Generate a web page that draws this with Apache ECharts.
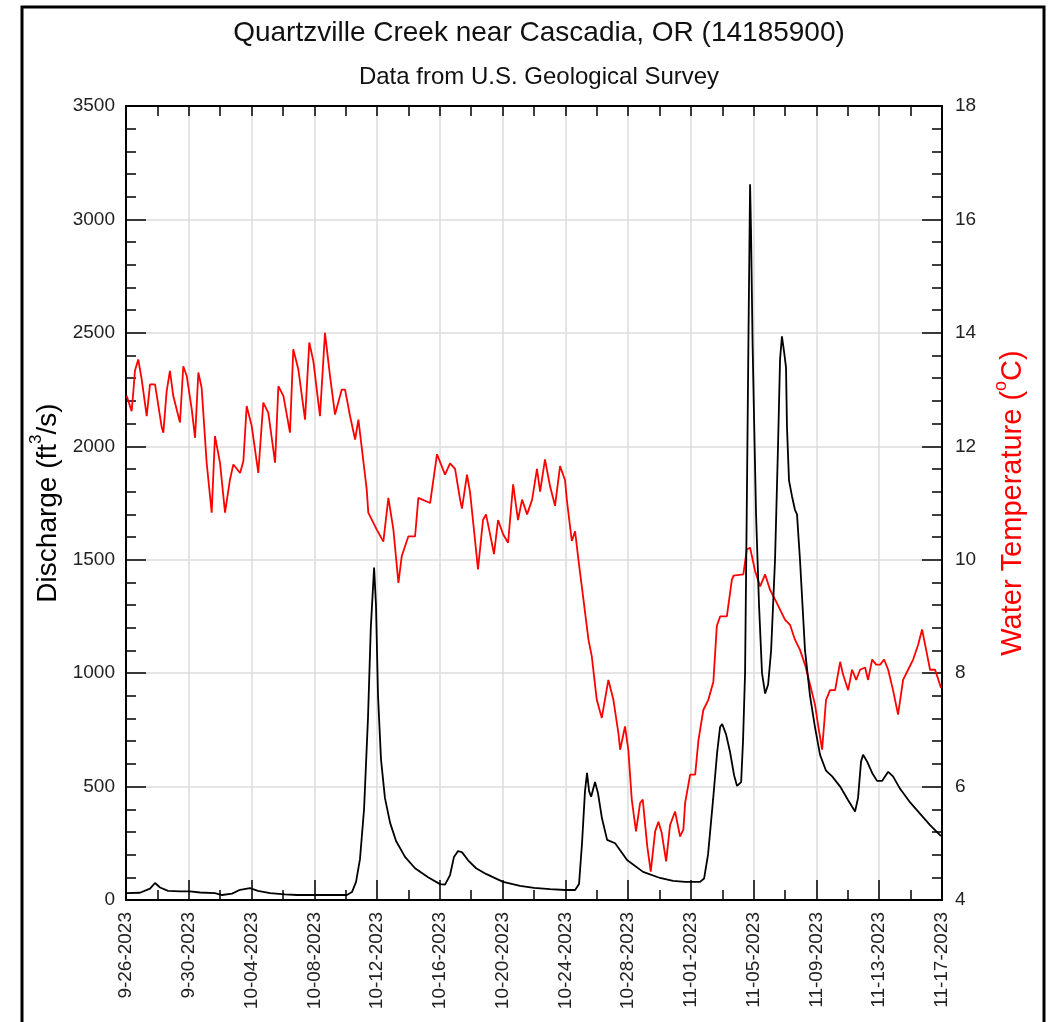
<!DOCTYPE html>
<html>
<head>
<meta charset="utf-8">
<title>Quartzville Creek near Cascadia, OR (14185900)</title>
<script src="https://cdn.jsdelivr.net/npm/echarts@6/dist/echarts.min.js"></script>
<style>
  html, body { margin: 0; padding: 0; background: #fff; }
  #chart { width: 1053px; height: 1022px; }
</style>
</head>
<body>
<div id="chart"></div>
<script>
// Period start (day 0 = 2023-09-26 00:00), axis spans 52 days
const startDate = Date.UTC(2023, 8, 26);
const totalDays = 52;

// Discharge (ft3/s): day offset and value
const flowDay = [0, 0.89, 1.53, 1.85, 2.17, 2.68, 3.44, 4.08, 4.72, 5.67, 6.12, 6.76, 7.27, 7.9, 8.41, 9.18, 10.13, 10.9,
  14.08, 14.4, 14.66, 14.91, 15.17, 15.42, 15.6, 15.81, 15.93, 16.06, 16.25, 16.5, 16.83, 17.21, 17.78, 18.42, 19.25, 20.01,
  20.33, 20.65, 20.9, 21.16, 21.42, 21.8, 22.31, 22.94, 24.03, 25.11, 26.0, 27.02, 27.98, 28.62, 28.87, 29.06, 29.25, 29.38,
  29.51, 29.64, 29.89, 30.08, 30.33, 30.66, 31.17, 31.93, 32.95, 34.03, 34.86, 35.63, 36.58, 36.84, 37.09, 37.41, 37.67,
  37.86, 37.99, 38.24, 38.5, 38.75, 38.94, 39.2, 39.32, 39.45, 39.57, 39.67, 39.77, 39.83, 39.93, 40.03, 40.15, 40.34,
  40.53, 40.73, 40.92, 41.11, 41.36, 41.55, 41.68, 41.8, 41.93, 42.06, 42.12, 42.25, 42.44, 42.63, 42.76, 42.95, 43.27,
  43.59, 43.91, 44.23, 44.61, 45.0, 45.51, 46.02, 46.46, 46.65, 46.84, 46.97, 47.23, 47.55, 47.86, 48.18, 48.57, 48.88,
  49.33, 49.97, 50.61, 51.24, 51.94];
const flowCfs = [30, 32, 50, 75, 55, 40, 38, 38, 33, 30, 22, 28, 45, 52, 40, 30, 25, 22,
  22, 35, 80, 180, 400, 800, 1200, 1465, 1300, 900, 620, 450, 340, 260, 190, 140, 100, 70,
  68, 110, 190, 216, 210, 175, 140, 115, 80, 62, 53, 48, 44, 44, 70, 250, 480, 560,
  480, 455, 520, 470, 360, 265, 250, 176, 124, 97, 84, 80, 80, 95, 200, 441, 650,
  763, 776, 730, 650, 550, 503, 520, 700, 1000, 1800, 2500, 3155, 2948, 2450, 2100, 1700, 1300,
  1000, 910, 950, 1100, 1500, 2000, 2383, 2485, 2420, 2348, 2087, 1850, 1780, 1720, 1700, 1500, 1100,
  900, 760, 640, 570, 545, 500, 440, 390, 450, 610, 640, 610, 560, 525, 525, 565, 545,
  490, 430, 380, 330, 282];

// Water temperature (deg C): day offset and value
const tempDay = [0.04, 0.36, 0.47, 0.57, 0.78, 1.0, 1.32, 1.53, 1.85, 2.28, 2.38, 2.59, 2.8, 3.01, 3.44, 3.65, 3.87, 4.19,
  4.4, 4.61, 4.82, 5.14, 5.46, 5.67, 5.99, 6.31, 6.63, 6.84, 7.27, 7.48, 7.69, 8.01, 8.43, 8.75, 9.07, 9.5, 9.71, 10.03,
  10.45, 10.66, 10.98, 11.41, 11.68, 11.94, 12.36, 12.68, 13.0, 13.32, 13.75, 13.96, 14.28, 14.6, 14.81, 15.34, 15.44,
  15.98, 16.4, 16.72, 17.04, 17.36, 17.57, 17.99, 18.42, 18.63, 19.38, 19.82, 20.33, 20.65, 20.97, 21.29, 21.41, 21.73,
  21.92, 22.24, 22.43, 22.75, 22.94, 23.2, 23.45, 23.71, 24.03, 24.35, 24.67, 24.98, 25.24, 25.56, 25.88, 26.19, 26.39,
  26.7, 27.02, 27.34, 27.66, 27.98, 28.09, 28.41, 28.62, 28.83, 29.15, 29.47, 29.68, 30.0, 30.32, 30.74, 31.06, 31.38,
  31.49, 31.8, 32.01, 32.23, 32.5, 32.76, 32.93, 33.22, 33.44, 33.72, 33.93, 34.14, 34.42, 34.67, 34.99, 35.31, 35.52,
  35.63, 35.95, 36.27, 36.48, 36.79, 37.11, 37.43, 37.65, 37.86, 38.29, 38.61, 38.72, 39.34, 39.56, 39.77, 40.09, 40.41,
  40.73, 41.04, 41.36, 41.68, 42.0, 42.32, 42.63, 42.95, 43.27, 43.59, 43.91, 44.1, 44.36, 44.61, 44.87, 45.19, 45.51,
  45.7, 46.02, 46.27, 46.53, 46.78, 47.1, 47.29, 47.55, 47.8, 48.06, 48.31, 48.57, 48.88, 49.2, 49.52, 49.84, 50.16,
  50.48, 50.73, 50.99, 51.24, 51.56, 51.94];
const tempC = [12.89, 12.62, 12.97, 13.33, 13.53, 13.18, 12.53, 13.09, 13.09, 12.33, 12.24, 12.97, 13.33, 12.89, 12.42, 13.41, 13.24, 12.65,
  12.15, 13.3, 13.03, 11.71, 10.83, 12.18, 11.71, 10.83, 11.42, 11.68, 11.53, 11.74, 12.71, 12.36, 11.53, 12.77, 12.59, 11.71, 13.06, 12.89,
  12.24, 13.71, 13.36, 12.47, 13.83, 13.5, 12.53, 14.0, 13.24, 12.56, 13.0, 13.0, 12.53, 12.12, 12.47, 11.24, 10.83,
  10.53, 10.32, 11.09, 10.53, 9.59, 10.06, 10.41, 10.41, 11.09, 11.0, 11.86, 11.5, 11.7, 11.6, 11.06, 10.9, 11.5,
  11.2, 10.35, 9.83, 10.7, 10.8, 10.45, 10.1, 10.7, 10.45, 10.3, 11.33, 10.7, 11.06, 10.8, 11.06, 11.6, 11.2,
  11.77, 11.3, 10.95, 11.65, 11.4, 11.06, 10.33, 10.5, 10.0, 9.3, 8.59, 8.3, 7.53, 7.21, 7.88, 7.53, 6.94,
  6.65, 7.06, 6.65, 5.77, 5.21, 5.71, 5.77, 4.94, 4.5, 5.21, 5.38, 5.18, 4.68, 5.32, 5.56, 5.12, 5.24,
  5.71, 6.21, 6.21, 6.82, 7.35, 7.53, 7.85, 8.83, 9.0, 9.0, 9.65, 9.72, 9.74, 10.18, 10.21, 9.8, 9.53,
  9.74, 9.47, 9.3, 9.12, 8.94, 8.85, 8.59, 8.41, 8.15, 7.8, 7.44, 7.09, 6.65, 7.53, 7.7, 7.7, 8.2,
  7.97, 7.7, 8.06, 7.88, 8.06, 8.1, 7.88, 8.24, 8.15, 8.15, 8.24, 8.06, 7.7, 7.27, 7.88, 8.06, 8.24,
  8.5, 8.77, 8.41, 8.06, 8.06, 7.74];

const titleText = 'Quartzville Creek near Cascadia, OR (14185900)';
const subtitleText = 'Data from U.S. Geological Survey';

function pairs(xs, ys) { return xs.map((x, i) => [x, ys[i]]); }

function dayLabel(d) {
  const dt = new Date(startDate + d * 86400000);
  const m = dt.getUTCMonth() + 1;
  const day = String(dt.getUTCDate()).padStart(2, '0');
  return m + '-' + day + '-' + dt.getUTCFullYear();
}

const FONT = '"Liberation Sans", Arial, Helvetica, sans-serif';
const GRID = { left: 126, right: 111, top: 106, bottom: 122 };
const plotCenterX = GRID.left + (1053 - GRID.left - GRID.right) / 2;
const TICK = { color: '#000', width: 1.5 };
const FRAME_LINE = { show: true, onZero: false, lineStyle: { color: '#000', width: 2 } };

// an axis that only contributes short inside ticks (the minor tick marks)
function tickOnlyAxis(extra) {
  return Object.assign({
    type: 'value',
    axisLine: { show: false, onZero: false },
    axisTick: { show: true, inside: true, length: 10, lineStyle: TICK },
    splitLine: { show: false },
    axisLabel: { show: false }
  }, extra);
}

const chart = echarts.init(document.getElementById('chart'), null, { renderer: 'canvas' });

chart.setOption({
  animation: false,
  backgroundColor: '#fff',
  textStyle: { fontFamily: FONT },
  title: [
    { text: titleText, left: plotCenterX, top: 14, textAlign: 'center',
      textStyle: { fontFamily: FONT, fontSize: 28, fontWeight: 'normal', color: '#111' } },
    { text: subtitleText, left: plotCenterX, top: 60, textAlign: 'center',
      textStyle: { fontFamily: FONT, fontSize: 24, fontWeight: 'normal', color: '#111' } }
  ],
  graphic: [
    { type: 'rect', shape: { x: 22, y: 7, width: 1022, height: 1040 },
      style: { fill: 'none', stroke: '#000', lineWidth: 3 }, silent: true, z: 100 }
  ],
  grid: { left: GRID.left, right: GRID.right, top: GRID.top, bottom: GRID.bottom, containLabel: false },
  xAxis: [
    {
      type: 'value', position: 'bottom', min: 0, max: totalDays, interval: 4,
      axisLine: FRAME_LINE,
      axisTick: { show: true, inside: true, length: 20, lineStyle: TICK },
      splitLine: { show: true, lineStyle: { color: '#dcdcdc', width: 1.5 } },
      axisLabel: { rotate: 90, margin: 12, fontSize: 19, color: '#222', fontFamily: FONT,
        formatter: v => dayLabel(v) }
    },
    {
      type: 'value', position: 'top', min: 0, max: totalDays, interval: 2,
      axisLine: FRAME_LINE,
      axisTick: { show: true, inside: true, length: 10, lineStyle: TICK },
      splitLine: { show: false },
      axisLabel: { show: false }
    },
    tickOnlyAxis({ position: 'bottom', min: 0, max: totalDays, interval: 2 })
  ],
  yAxis: [
    {
      type: 'value', position: 'left', min: 0, max: 3500, interval: 500,
      axisLine: FRAME_LINE,
      axisTick: { show: true, inside: true, length: 20, lineStyle: TICK },
      splitLine: { show: true, lineStyle: { color: '#dcdcdc', width: 1.5 } },
      axisLabel: { margin: 11, fontSize: 19, color: '#222', fontFamily: FONT, formatter: v => String(v) },
      name: '{n|Discharge (ft}{s|3}{n|/s)}',
      nameLocation: 'middle', nameRotate: 90, nameGap: 58,
      nameTextStyle: {
        rich: {
          n: { fontSize: 28, color: '#000', fontFamily: FONT, lineHeight: 34, verticalAlign: 'bottom' },
          s: { fontSize: 17, color: '#000', fontFamily: FONT, lineHeight: 34, verticalAlign: 'top' }
        }
      }
    },
    {
      type: 'value', position: 'right', min: 4, max: 18, interval: 2,
      axisLine: FRAME_LINE,
      axisTick: { show: true, inside: true, length: 20, lineStyle: TICK },
      splitLine: { show: false },
      axisLabel: { margin: 13, fontSize: 19, color: '#222', fontFamily: FONT },
      name: '{n|Water Temperature (}{s|o}{n|C)}',
      nameLocation: 'middle', nameRotate: 90, nameGap: 50,
      nameTextStyle: {
        rich: {
          n: { fontSize: 29, color: '#ff0000', fontFamily: FONT, lineHeight: 35, verticalAlign: 'bottom' },
          s: { fontSize: 18, color: '#ff0000', fontFamily: FONT, lineHeight: 35, verticalAlign: 'top' }
        }
      }
    },
    tickOnlyAxis({ position: 'left', min: 0, max: 3500, interval: 100 }),
    tickOnlyAxis({ position: 'right', min: 4, max: 18, interval: 0.4 })
  ],
  series: [
    {
      name: 'Water Temperature', type: 'line', xAxisIndex: 0, yAxisIndex: 1,
      data: pairs(tempDay, tempC), showSymbol: false, symbol: 'none',
      lineStyle: { color: '#ff0000', width: 1.8 }, z: 2
    },
    {
      name: 'Discharge', type: 'line', xAxisIndex: 0, yAxisIndex: 0,
      data: pairs(flowDay, flowCfs), showSymbol: false, symbol: 'none',
      lineStyle: { color: '#000', width: 1.8 }, z: 3
    }
  ]
});
</script>
</body>
</html>
